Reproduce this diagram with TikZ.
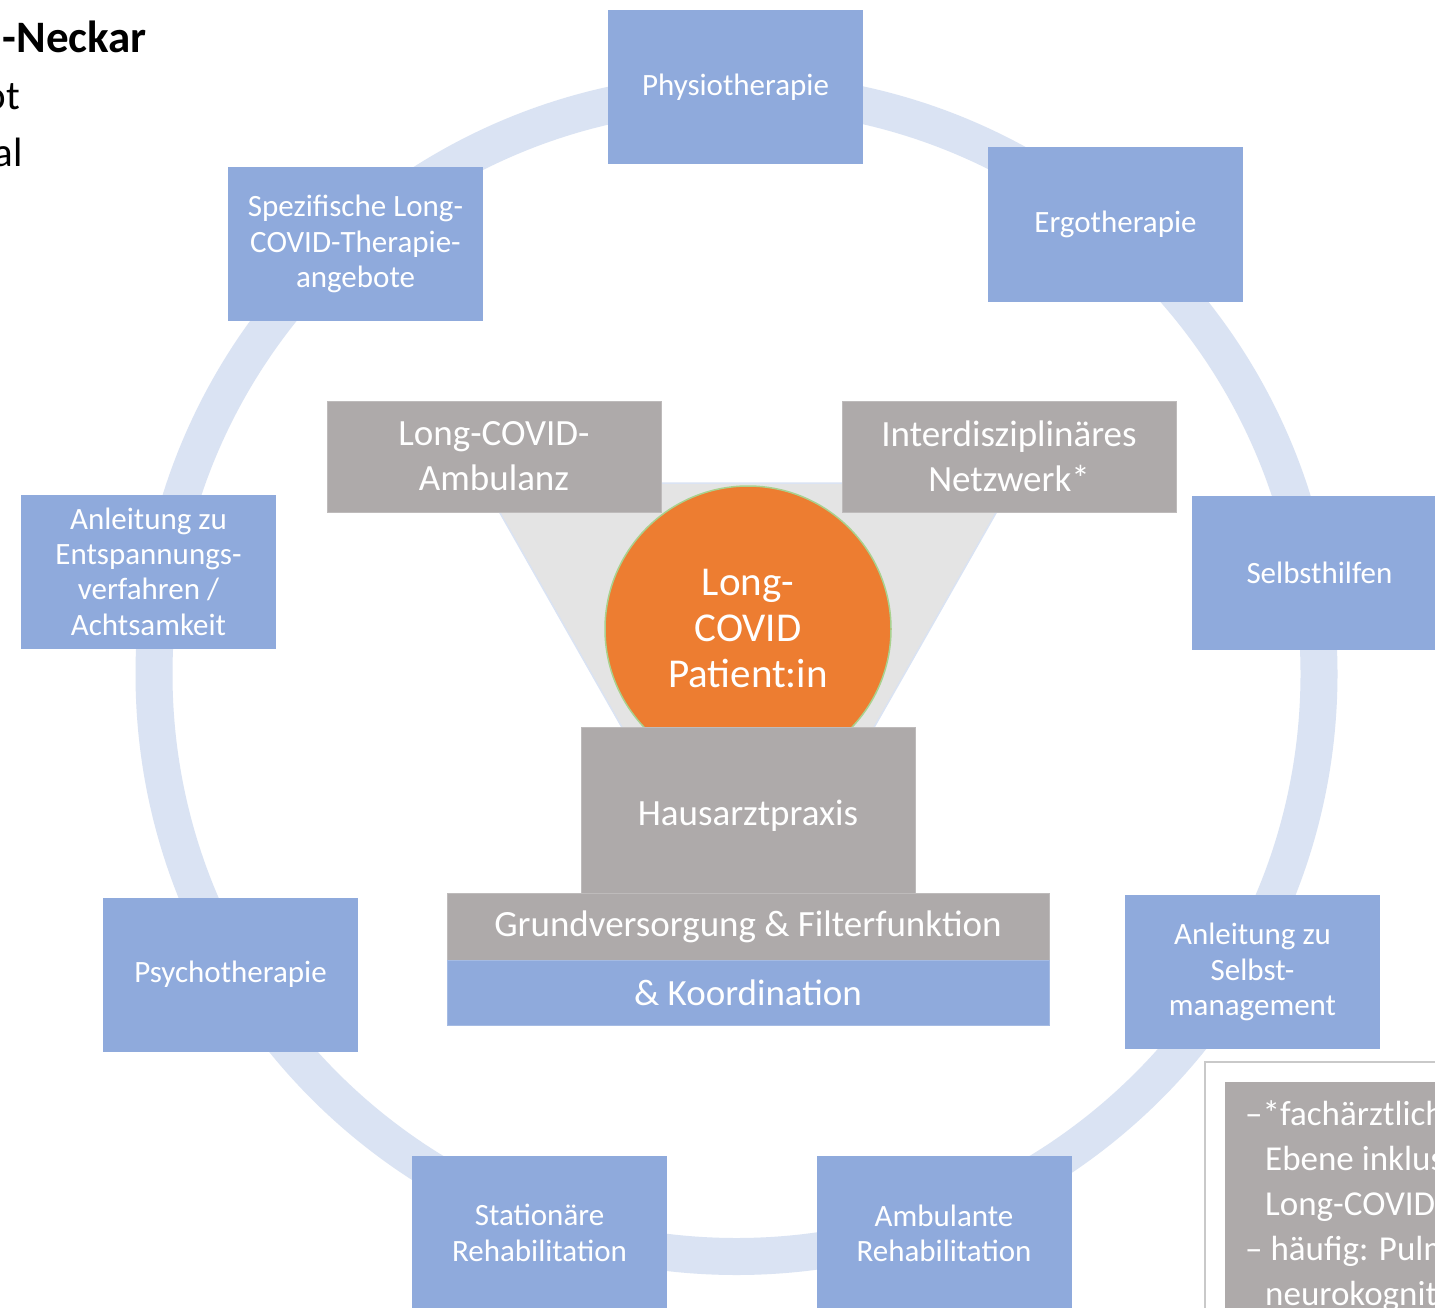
\documentclass[tikz,border=0pt]{standalone}
\usepackage{fontspec}
\setmainfont{Carlito}
\definecolor{cblue}{HTML}{8FAADC}
\definecolor{cring}{HTML}{DAE3F3}
\definecolor{cgray}{HTML}{AEAAAA}
\definecolor{corange}{HTML}{ED7D31}
\definecolor{ctri}{HTML}{E4E4E4}
\definecolor{cgreen}{HTML}{A9D18E}
\definecolor{cnote}{HTML}{C9C9C9}
\tikzset{
  bluebox/.style={fill=cblue, text=white, inner sep=0pt, minimum width=255pt, minimum height=154pt, align=center, font=\fontsize{31}{35.3}\selectfont},
  graybox/.style={fill=cgray, draw=cgray!80!white, line width=0.8pt, text=white, inner sep=0pt, align=center, font=\fontsize{37}{45}\selectfont},
  notetext/.style={text=white, inner sep=0pt, anchor=base west, font=\fontsize{35}{45}\selectfont},
  toptext/.style={text=black, inner sep=0pt, anchor=base east, font=\fontsize{41}{48}\selectfont}
}
\begin{document}
\begin{tikzpicture}[x=1pt,y=-1pt]
\useasboundingbox (0,0) rectangle (1435,1308);
\clip (0,0) rectangle (1435,1308);
\fill[white] (0,0) rectangle (1435,1308);
% ring
\draw[cring, line width=37pt] (736.5,674) circle[radius=582.5];
% top-left text
\node[toptext, font=\fontsize{45}{48}\selectfont\bfseries] (tl1) at (147,53) {-Neckar};
\node[toptext] (tl2) at (20,110) {ot};
\node[toptext] (tl3) at (23,167) {al};
% blue boxes
\node[bluebox] (physio) at (735.5,87) {Physiotherapie};
\node[bluebox] (ergo) at (1115.5,224.5) {Ergotherapie};
\node[bluebox] (selbst) at (1319.5,573) {Selbsthilfen};
\node[bluebox] (selbstm) at (1252.5,972) {Anleitung zu\\Selbst-\\management};
\node[bluebox] (amb) at (944,1233) {Ambulante\\Rehabilitation};
\node[bluebox] (stat) at (539.5,1233) {Stationäre\\Rehabilitation};
\node[bluebox] (psycho) at (230.5,974.5) {Psychotherapie};
\node[bluebox] (entsp) at (148.5,571.5) {Anleitung zu\\Entspannungs-\\verfahren /\\Achtsamkeit};
\node[bluebox] (spez) at (355.5,244) {Spezifische Long-\\COVID-Therapie-\\angebote};
% triangle
\coordinate (tA) at (483,483);
\coordinate (tB) at (1013,483);
\coordinate (tC) at (748,949);
\filldraw[fill=ctri, draw=cring, line width=1.5pt] (tA) -- (tB) -- (tC) -- cycle;
% patient circle
\node[circle, fill=corange, draw=cgreen, line width=1.5pt, minimum size=286pt, inner sep=0pt, text=white, align=center, font=\fontsize{41}{46}\selectfont] (pat) at (748,629) {Long-\\COVID\\Patient:in};
% gray boxes
\node[graybox, minimum width=334pt, minimum height=111pt] (ambul) at (494,456.5) {Long-COVID-\\Ambulanz};
\node[graybox, minimum width=334pt, minimum height=111pt] (netz) at (1009,456.5) {Interdisziplinäres\\Netzwerk*};
\node[graybox, minimum width=334pt, minimum height=166pt, text depth=0pt, text height=30pt] (haus) at (748,810) {Hausarztpraxis};
\node[graybox, minimum width=602pt, minimum height=67pt] (grund) at (748,926.5) {Grundversorgung \& Filterfunktion};
\node[graybox, fill=cblue, draw=cblue!80!white, minimum width=602pt, minimum height=65pt] (koord) at (748,992.5) {\& Koordination};
% note box
\draw[cnote, fill=white, line width=1.2pt] (1205,1062) rectangle (1450,1330);
\fill[cgray] (1225,1082) rectangle (1450,1330);
\node[notetext] (n1) at (1245,1125) {–*fachärztliche};
\node[notetext] (n2) at (1265,1170) {Ebene inklusive};
\node[notetext] (n3) at (1265,1215) {Long-COVID-};
\node[notetext] (n4) at (1245,1260) {– häufig: Pulmologie};
\node[notetext] (n5) at (1265,1305) {neurokognitiv};
\end{tikzpicture}
\end{document}
